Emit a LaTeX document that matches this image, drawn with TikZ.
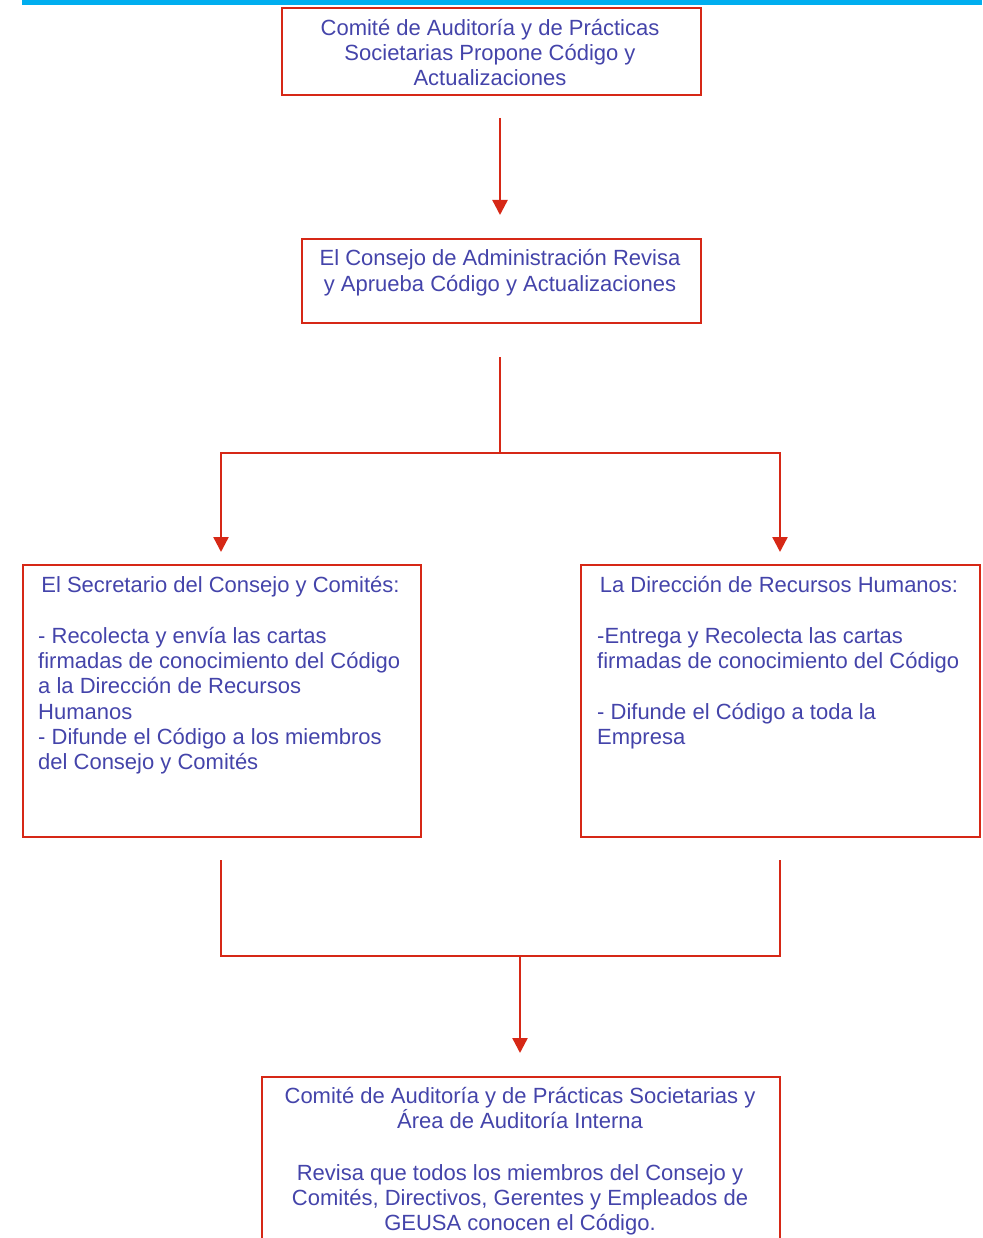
\documentclass[tikz,border=0pt]{standalone}
\usepackage{fontspec}
\setmainfont{Liberation Sans}
\usetikzlibrary{arrows.meta}
\definecolor{txtblue}{RGB}{68,68,170}
\definecolor{lnred}{RGB}{214,40,22}
\definecolor{barcyan}{RGB}{0,174,239}
\begin{document}
\begin{tikzpicture}[x=1pt,y=-1pt,
  box/.style={draw=lnred,line width=2.4pt,inner sep=0pt,anchor=north west},
  txt/.style={text=txtblue,inner sep=0pt,font=\fontsize{22}{25.2}\selectfont},
  conn/.style={draw=lnred,line width=2.4pt},
  arr/.style={-{Triangle[width=15pt,length=15pt]}}]
\useasboundingbox (0,0) rectangle (982,1238);
\clip (0,0) rectangle (982,1238);
% top bar
\fill[barcyan] (22,0) rectangle (982,5);
% boxes
\node[box,minimum width=419pt,minimum height=87pt] (b1) at (281,7) {};
\node[box,minimum width=399pt,minimum height=84pt] (b2) at (301,238) {};
\node[box,minimum width=398pt,minimum height=272pt] (b3) at (22,564) {};
\node[box,minimum width=399pt,minimum height=272pt] (b4) at (580,564) {};
\node[box,minimum width=518pt,minimum height=200pt] (b5) at (261,1076) {};
% texts (base anchor = baseline of the last line)
\node[txt,align=center,anchor=base] (t1) at (490,86)
  {Comité de Auditoría y de Prácticas\\Societarias Propone Código y\\Actualizaciones};
\node[txt,align=center,anchor=base] (t2) at (500,291)
  {El Consejo de Administración Revisa\\y Aprueba Código y Actualizaciones};
\node[txt,anchor=base] (t3a) at (220.5,592) {El Secretario del Consejo y Comités:};
\node[txt,align=left,anchor=base west] (t3b) at (38,769.5)
  {- Recolecta y envía las cartas\\firmadas de conocimiento del Código\\a la Dirección de Recursos\\Humanos\\- Difunde el Código a los miembros\\del Consejo y Comités};
\node[txt,anchor=base] (t4a) at (779,592) {La Dirección de Recursos Humanos:};
\node[txt,align=left,anchor=base west] (t4b) at (597,744.5)
  {-Entrega y Recolecta las cartas\\firmadas de conocimiento del Código\\[25.5pt]- Difunde el Código a toda la\\Empresa};
\node[txt,align=center,anchor=base] (t5) at (520,1230.5)
  {Comité de Auditoría y de Prácticas Societarias y\\Área de Auditoría Interna\\[26pt]Revisa que todos los miembros del Consejo y\\Comités, Directivos, Gerentes y Empleados de\\GEUSA conocen el Código.};
% connectors
\coordinate (a1s) at (500,118);
\coordinate (a1e) at (500,215);
\draw[conn,arr] (a1s) -- (a1e);
\coordinate (s1) at (500,357);
\coordinate (j1) at (500,453);
\coordinate (l1) at (221,453);
\coordinate (l1e) at (221,552);
\coordinate (r1) at (780,453);
\coordinate (r1e) at (780,552);
\draw[conn] (s1) -- (j1);
\draw[conn,arr] (j1) -- (l1) -- (l1e);
\draw[conn,arr] (j1) -- (r1) -- (r1e);
\coordinate (m1) at (221,860);
\coordinate (m1b) at (221,956);
\coordinate (m2b) at (780,956);
\coordinate (m2) at (780,860);
\draw[conn] (m1) -- (m1b) -- (m2b) -- (m2);
\coordinate (j2) at (520,956);
\coordinate (j2e) at (520,1053);
\draw[conn,arr] (j2) -- (j2e);
\end{tikzpicture}
\end{document}
